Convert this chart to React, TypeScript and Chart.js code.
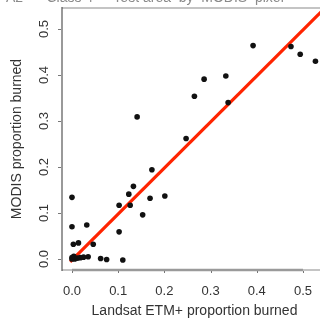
import React, { useEffect, useRef } from "react";
import { Chart, registerables } from "chart.js";

Chart.register(...registerables);

// Landsat ETM+ (x) vs MODIS (y) proportion burned
const landsatBurned = [
  0.392, 0.474, 0.494, 0.527, 0.286, 0.333, 0.265, 0.338, 0.247, 0.141,
  0.173, 0.201, 0.169, 0.133, 0.123, 0.102, 0.126, 0.153, 0.0, 0.0,
  0.032, 0.102, 0.003, 0.014, 0.046, 0.062, 0.075, 0.11, 0.035, 0.0,
  0.006, 0.012, 0.018, 0.025, 0.004, 0.0,
];
const modisBurned = [
  0.464, 0.462, 0.445, 0.43, 0.391, 0.398, 0.354, 0.34, 0.262, 0.309,
  0.194, 0.137, 0.132, 0.158, 0.141, 0.117, 0.117, 0.096, 0.134, 0.07,
  0.074, 0.059, 0.032, 0.035, 0.032, 0.001, -0.001, -0.002, 0.005, 0.0,
  0.0, 0.002, 0.003, 0.004, 0.006, 0.003,
];
// fitted line end points
const fitX = [-0.004, 0.56];
const fitY = [-0.006, 0.558];

const xTicks = [0, 0.1, 0.2, 0.3, 0.4, 0.5];
const yTicks = [0, 0.1, 0.2, 0.3, 0.4, 0.5];
const xTitle = "Landsat ETM+ proportion burned";
const yTitle = "MODIS proportion burned";
const topCaption = "A2      Class 4  -  Test area  by  MODIS  pixel";

const FONT = "'Liberation Sans', Arial, sans-serif";
const TEXT = "#333";

const decorPlugin = {
  id: "decor",
  beforeDatasetsDraw(chart: any) {
    const { ctx, chartArea } = chart;
    const xs = chart.scales.x;
    const ys = chart.scales.y;
    ctx.save();
    // light box
    ctx.strokeStyle = "#c4c4c4";
    ctx.lineWidth = 2;
    ctx.beginPath();
    ctx.moveTo(chartArea.left, chartArea.top);
    ctx.lineTo(chartArea.right, chartArea.top);
    ctx.lineTo(chartArea.right, chartArea.bottom);
    ctx.lineTo(chartArea.left, chartArea.bottom);
    ctx.stroke();
    // x axis line between first and last tick
    ctx.strokeStyle = "#9a9a9a";
    ctx.lineWidth = 2.5;
    ctx.beginPath();
    ctx.moveTo(xs.getPixelForValue(xTicks[0]), chartArea.bottom);
    ctx.lineTo(xs.getPixelForValue(xTicks[xTicks.length - 1]), chartArea.bottom);
    ctx.stroke();
    // left axis
    ctx.strokeStyle = "#555";
    ctx.lineWidth = 1.2;
    ctx.beginPath();
    ctx.moveTo(chartArea.left, chartArea.top - 1);
    ctx.lineTo(chartArea.left, chartArea.bottom + 1);
    ctx.stroke();
    // ticks
    ctx.strokeStyle = "#777";
    ctx.lineWidth = 1;
    xTicks.forEach((t) => {
      const px = Math.round(xs.getPixelForValue(t)) + 0.5;
      ctx.beginPath();
      ctx.moveTo(px, chartArea.bottom + 1);
      ctx.lineTo(px, chartArea.bottom + 3);
      ctx.stroke();
    });
    yTicks.forEach((t) => {
      const py = Math.round(ys.getPixelForValue(t)) + 0.5;
      ctx.beginPath();
      ctx.moveTo(chartArea.left - 4, py);
      ctx.lineTo(chartArea.left - 1, py);
      ctx.stroke();
    });
    ctx.restore();
  },
  afterDraw(chart: any) {
    const { ctx, chartArea } = chart;
    const ys = chart.scales.y;
    ctx.save();
    ctx.fillStyle = TEXT;
    ctx.font = `13px ${FONT}`;
    ctx.textAlign = "center";
    ctx.textBaseline = "middle";
    yTicks.forEach((t) => {
      const py = ys.getPixelForValue(t);
      ctx.save();
      ctx.translate(chartArea.left - 18, py);
      ctx.rotate(-Math.PI / 2);
      ctx.fillText(t.toFixed(1), 0, 0);
      ctx.restore();
    });
    // clipped caption above the plot
    ctx.fillStyle = "#8a8a8a";
    ctx.font = `14px ${FONT}`;
    ctx.textAlign = "left";
    ctx.textBaseline = "alphabetic";
    ctx.fillText(topCaption, 6, chartArea.top - 6);
    ctx.restore();
  },
};

export default function App() {
  const ref = useRef<HTMLCanvasElement | null>(null);
  useEffect(() => {
    if (!ref.current) return;
    const points = landsatBurned.map((x, i) => ({ x, y: modisBurned[i] }));
    const fit = fitX.map((x, i) => ({ x, y: fitY[i] }));
    const chart = new Chart(ref.current, {
      type: "scatter",
      data: {
        datasets: [
          {
            type: "scatter",
            data: points,
            backgroundColor: "#111",
            borderColor: "#111",
            pointRadius: 2.8,
            borderWidth: 0,
            order: 0,
          } as any,
          {
            type: "line",
            data: fit,
            borderColor: "#ff2400",
            borderWidth: 3.2,
            pointRadius: 0,
            fill: false,
            showLine: true,
            order: 1,
          } as any,
        ],
      },
      options: {
        responsive: false,
        animation: false,
        layout: { padding: { top: 28, left: 0, right: 33, bottom: 0 } },
        plugins: {
          legend: { display: false },
          tooltip: { enabled: false },
          title: { display: false },
        },
        scales: {
          x: {
            type: "linear",
            min: -0.0216,
            max: 0.552,
            grid: { display: false, drawTicks: false },
            border: { display: false },
            afterBuildTicks: (s: any) => {
              s.ticks = xTicks.map((v) => ({ value: v }));
            },
            afterFit: (s: any) => {
              s.height = 56;
            },
            ticks: {
              padding: 14,
              maxRotation: 0,
              autoSkip: false,
              color: TEXT,
              font: { family: FONT, size: 13 },
              callback: (v: any) => Number(v).toFixed(1),
            },
            title: {
              display: true,
              text: xTitle,
              color: TEXT,
              font: { family: FONT, size: 14 },
              padding: { top: 0, bottom: 6 },
            },
          },
          y: {
            type: "linear",
            min: -0.0239,
            max: 0.5457,
            grid: { display: false, drawTicks: false },
            border: { display: false },
            afterBuildTicks: (s: any) => {
              s.ticks = yTicks.map((v) => ({ value: v }));
            },
            afterFit: (s: any) => {
              s.width = 62;
            },
            ticks: { display: false },
            title: {
              display: true,
              text: yTitle,
              color: TEXT,
              font: { family: FONT, size: 14 },
              padding: { top: 9, bottom: 0 },
            },
          },
        },
      },
      plugins: [decorPlugin],
    });
    return () => chart.destroy();
  }, []);

  return (
    <div
      style={{
        position: "absolute",
        left: 0,
        top: 0,
        width: 320,
        height: 326,
        overflow: "hidden",
        background: "#fff",
      }}
    >
      <canvas
        ref={ref}
        width={360}
        height={346}
        style={{ position: "absolute", left: 0, top: -20, width: 360, height: 346 }}
      />
    </div>
  );
}
